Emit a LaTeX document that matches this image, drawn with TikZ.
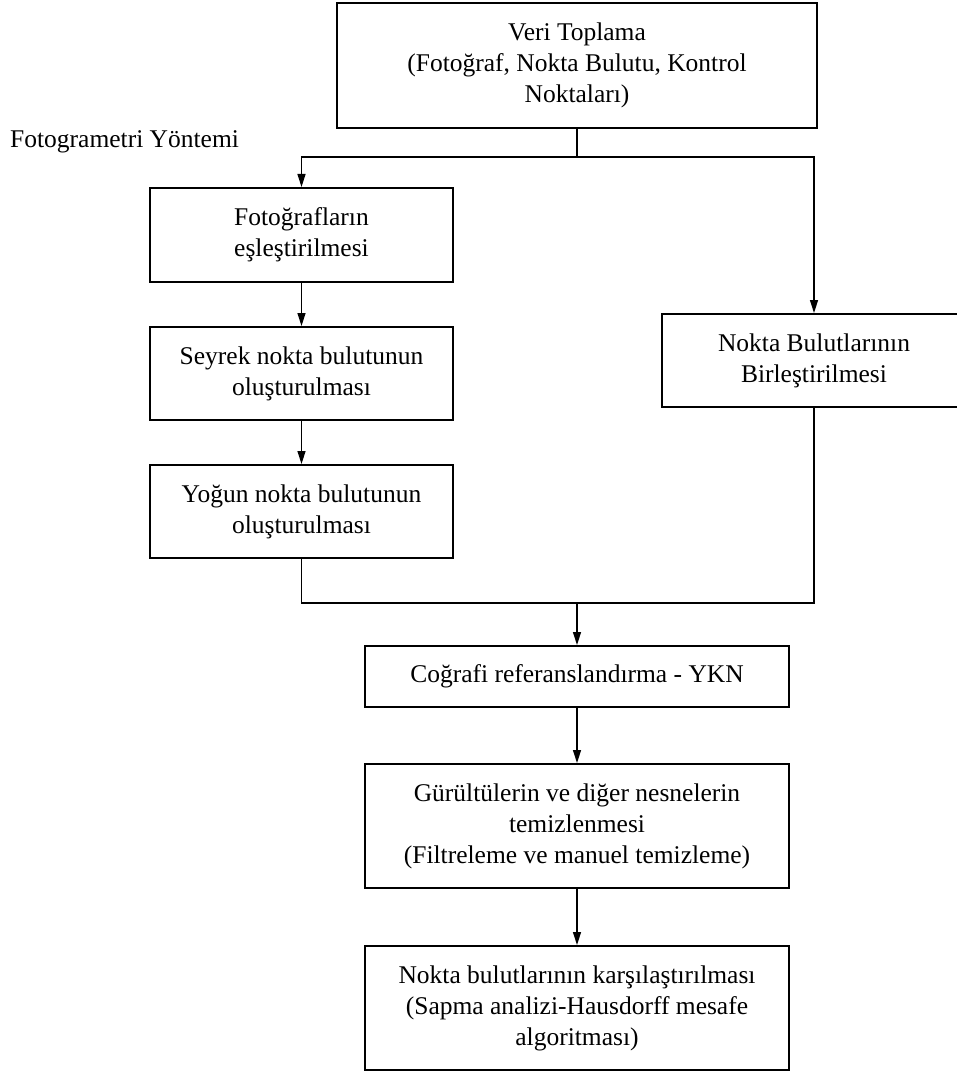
\documentclass[tikz,border=0pt]{standalone}
\usepackage{fontspec}
\setmainfont{Liberation Serif}
\usetikzlibrary{arrows.meta}

\tikzset{
    kutu/.style={draw=black, line width=2pt, align=center, inner sep=0pt,
        font=\fontsize{25.5pt}{31pt}\selectfont},
    ok/.style={line width=1.4pt, -{Triangle[length=13pt, width=8pt]}},
    hat/.style={line width=1.4pt}
}

\begin{document}
\begin{tikzpicture}[x=1pt, y=-1pt]
        \useasboundingbox (0,0) rectangle (957,1075);
        \node[kutu, minimum width=480pt, minimum height=125pt] (veri) at (577,65.5) {Veri Toplama\\(Fotoğraf, Nokta Bulutu, Kontrol\\Noktaları)};
        \node[anchor=base west, font=\fontsize{25.5pt}{31pt}\selectfont, inner sep=0pt] (yontem) at (10,148) {Fotogrametri Yöntemi};
        \node[kutu, minimum width=303pt, minimum height=94pt] (foto) at (301.5,235) {Fotoğrafların\\eşleştirilmesi};
        \node[kutu, minimum width=303pt, minimum height=93pt] (seyrek) at (301.5,373.5) {Seyrek nokta bulutunun\\oluşturulması};
        \node[kutu, minimum width=303pt, minimum height=93pt] (yogun) at (301.5,511.5) {Yoğun nokta bulutunun\\oluşturulması};
        \node[kutu, minimum width=304pt, minimum height=93pt] (birles) at (814,360.5) {Nokta Bulutlarının\\Birleştirilmesi};
        \node[kutu, minimum width=424pt, minimum height=61pt] (cograf) at (577,676.5) {Coğrafi referanslandırma - YKN};
        \node[kutu, minimum width=424pt, minimum height=124pt] (gurultu) at (577,826) {Gürültülerin ve diğer nesnelerin\\temizlenmesi\\(Filtreleme ve manuel temizleme)};
        \node[kutu, minimum width=424pt, minimum height=124pt] (karsi) at (577,1008) {Nokta bulutlarının karşılaştırılması\\(Sapma analizi-Hausdorff mesafe\\algoritması)};

        \coordinate (ayrim) at (577,157);
        \coordinate (birlesim) at (577,603);

        \draw[hat] (veri.south) -- (ayrim);
        \draw[ok] (ayrim) -| (foto.north);
        \draw[ok] (ayrim) -| (birles.north);
        \draw[ok] (foto) -- (seyrek);
        \draw[ok] (seyrek) -- (yogun);
        \draw[hat] (yogun.south) |- (birlesim) -| (birles.south);
        \draw[ok] (birlesim) -- (cograf.north);
        \draw[ok] (cograf) -- (gurultu);
        \draw[ok] (gurultu) -- (karsi);
    \end{tikzpicture}
\end{document}
